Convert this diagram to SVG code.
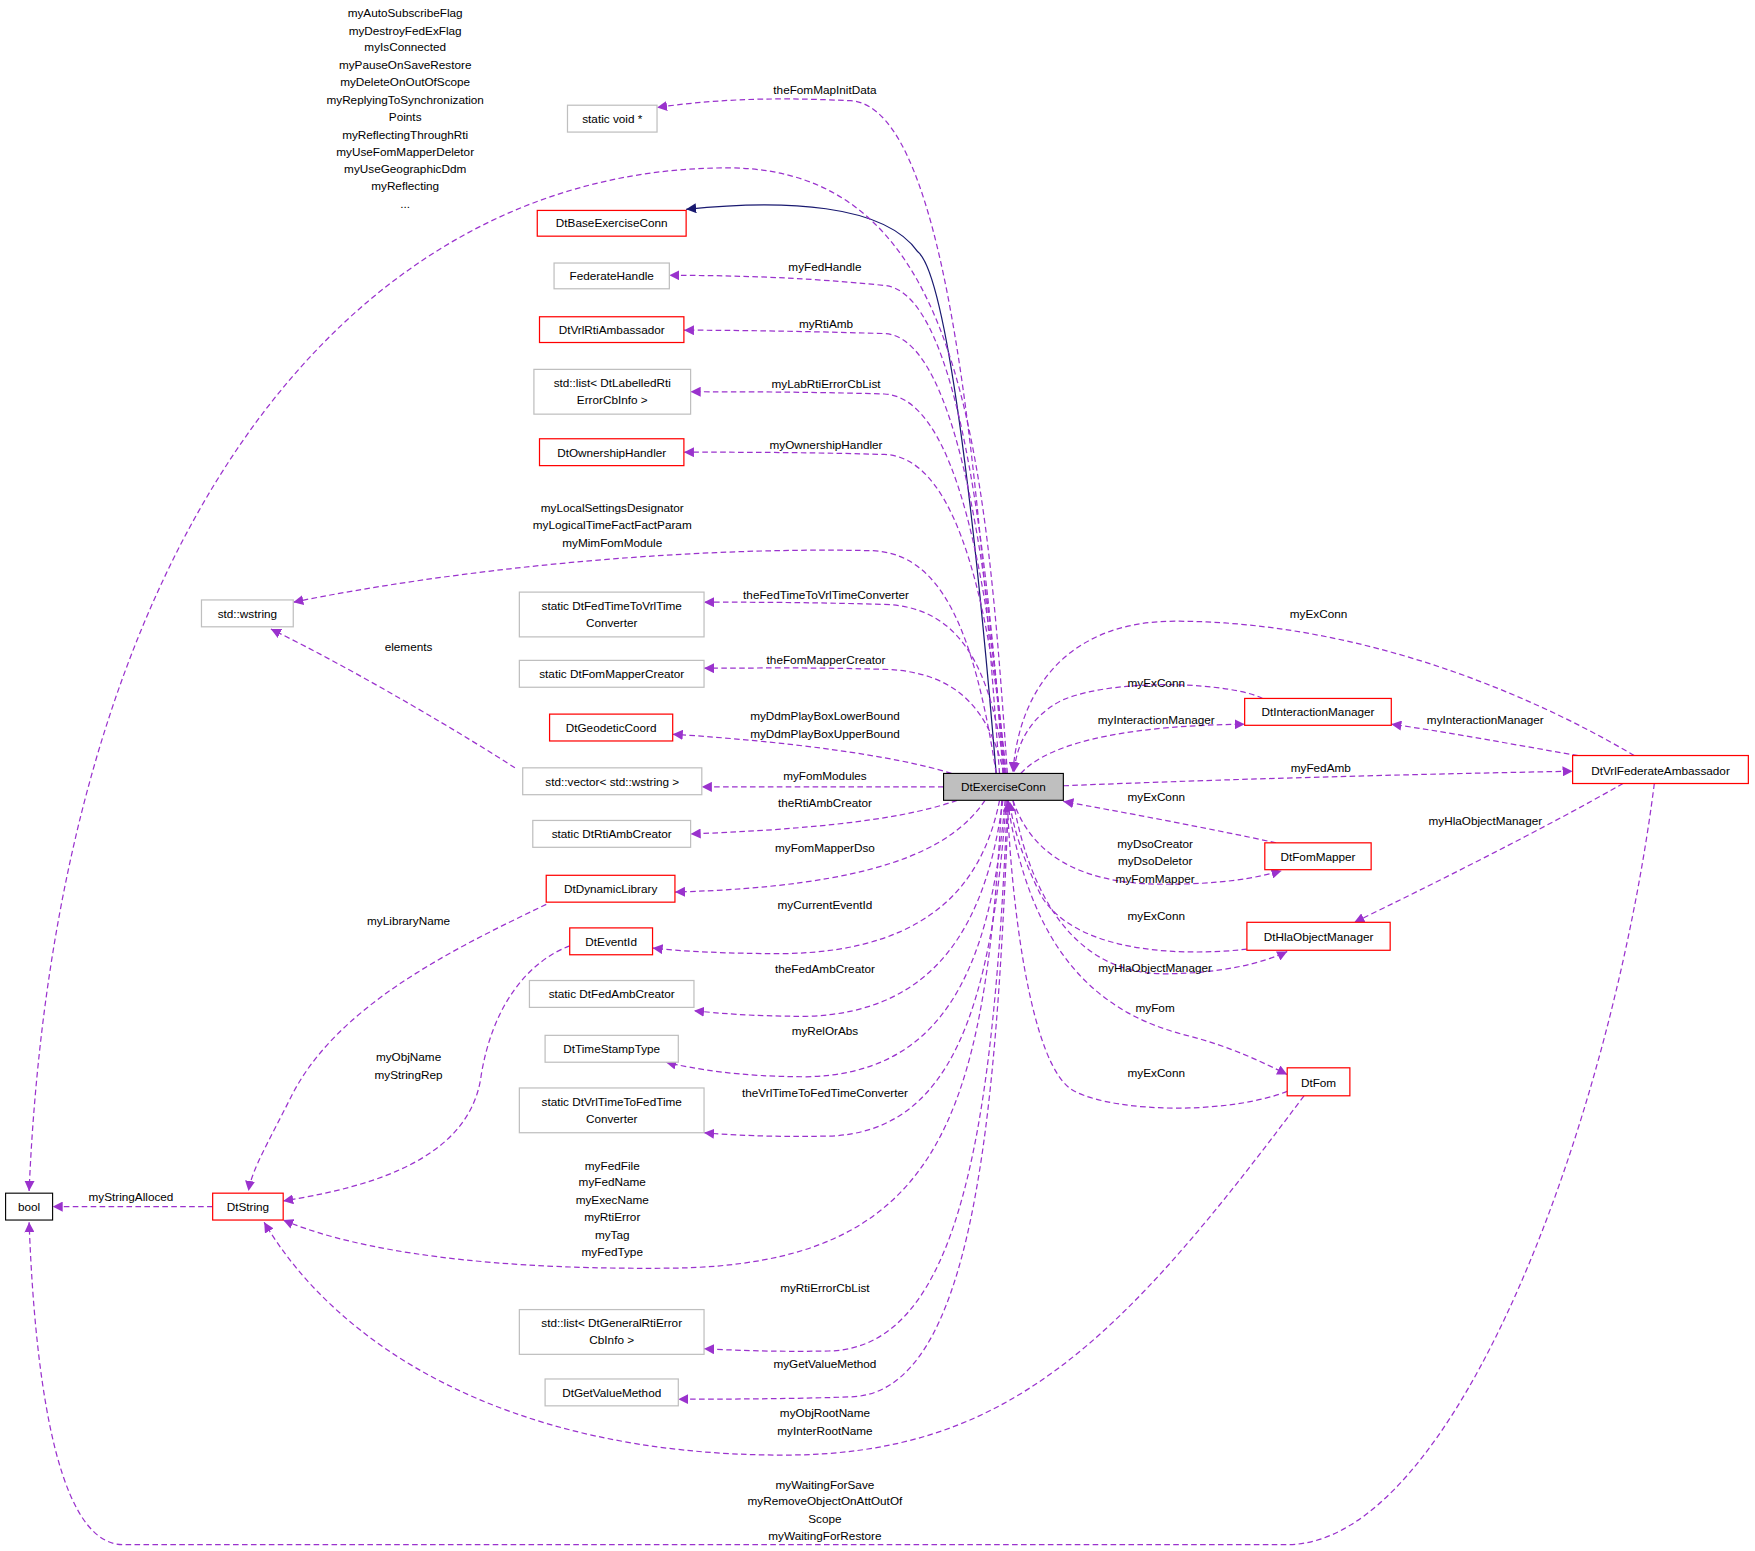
<svg xmlns="http://www.w3.org/2000/svg" width="1755" height="1551" viewBox="0 0 1755 1551">
<style>
text{font-family:"Liberation Sans",Arial,sans-serif;font-size:10.5px;text-anchor:middle;fill:#000}
.r{fill:#fff;stroke:#ff0000;stroke-width:1.1}
.g{fill:#fff;stroke:#bfbfbf;stroke-width:1.1}
.e path{fill:none;stroke:#9a32cd;stroke-width:1.1;stroke-dasharray:5,3;marker-end:url(#a)}
.e path.inh{stroke:#191970;stroke-dasharray:none;marker-end:url(#b)}
</style>
<defs>
<marker id="a" viewBox="0 0 10 10" refX="10" refY="5" markerWidth="9" markerHeight="9" markerUnits="userSpaceOnUse" orient="auto"><path d="M0,0 L10,5 L0,10 z" fill="#9a32cd"/></marker>
<marker id="b" viewBox="0 0 10 10" refX="10" refY="5" markerWidth="9" markerHeight="9" markerUnits="userSpaceOnUse" orient="auto"><path d="M0,0 L10,5 L0,10 z" fill="#191970"/></marker>
</defs>
<rect width="1755" height="1551" fill="#fff"/>
<g transform="scale(1.1193)">
<g id="connectors" class="e">
<path class="inh" d="M890,691 C870,450 845,245 820,225 C790,182 700,178 613,187"/>
<path d="M900,691 C880,400 860,150 650,150 C300,150 50,500 26,1064"/>
<path d="M893,691 C875,450 850,95 760,90 C680,86 630,90 587,96"/>
<path d="M896,691 C880,450 850,260 790,255 C720,248 660,246 598,246"/>
<path d="M897,691 C882,480 850,300 790,298 C720,296 660,295 611,295"/>
<path d="M898,691 C884,520 855,355 790,352 C720,350 660,350 617,350"/>
<path d="M899,691 C886,560 860,408 790,406 C720,404 660,404 611,404"/>
<path d="M890,691 C870,560 840,495 780,492 C600,488 400,510 262,538"/>
<path d="M898,691 C886,600 860,542 790,540 C720,538 670,538 629,538"/>
<path d="M897,691 C885,640 860,600 790,598 C720,596 670,597 629,597"/>
<path d="M850,691 C800,675 700,662 601,656"/>
<path d="M843,703 L627,703"/>
<path d="M460,686 C420,660 320,600 242,562"/>
<path d="M855,715 C800,735 700,742 617,745"/>
<path d="M880,715 C850,760 780,792 603,797"/>
<path d="M893,715 C880,780 840,850 700,852 C650,852 610,850 583,847"/>
<path d="M896,715 C882,820 840,905 720,908 C670,908 640,905 620,903"/>
<path d="M898,715 C885,870 840,960 720,962 C660,962 620,955 595,949"/>
<path d="M899,715 C886,900 850,1012 740,1015 C690,1016 650,1014 629,1012"/>
<path d="M895,715 C880,1000 840,1130 600,1133 C400,1135 300,1110 253,1090"/>
<path d="M900,715 C888,1000 860,1205 740,1207 C690,1208 650,1206 629,1205"/>
<path d="M901,715 C890,1000 870,1245 760,1248 C700,1250 650,1250 606,1250"/>
<path d="M488,808 C400,850 300,900 260,980 C240,1020 225,1045 222,1064"/>
<path d="M509,845 C470,860 440,900 430,960 C420,1040 320,1062 253,1073"/>
<path d="M190,1078 L47,1078"/>
<path d="M1165,979 C1000,1200 900,1300 700,1300 C450,1300 300,1200 236,1092"/>
<path d="M1478,700 C1440,1000 1300,1380 1150,1380 L110,1380 C45,1380 30,1200 26,1092"/>
<path d="M1460,675 C1350,610 1200,555 1050,555 C950,555 910,620 905,690"/>
<path d="M1128,624 C1100,610 1000,605 950,625 C920,640 908,665 906,690"/>
<path d="M912,691 C940,660 1020,648 1112,647"/>
<path d="M1410,675 C1350,665 1300,655 1243,647"/>
<path d="M950,702 C1100,696 1250,692 1405,689"/>
<path d="M1450,700 C1380,740 1280,790 1210,824"/>
<path d="M1140,753 C1080,740 1000,725 950,716"/>
<path d="M905,715 C920,760 960,790 1040,790 C1090,790 1120,785 1145,778"/>
<path d="M1114,848 C1050,855 960,850 930,800 C915,770 905,740 902,716"/>
<path d="M905,715 C920,800 960,870 1040,870 C1090,870 1130,860 1150,850"/>
<path d="M900,715 C920,850 980,905 1060,925 C1100,935 1130,950 1150,960"/>
<path d="M1150,975 C1100,995 1000,995 960,975 C920,955 903,800 900,716"/>
</g>
<g id="labels">
<text x="362" y="15">myAutoSubscribeFlag</text>
<text x="362" y="31">myDestroyFedExFlag</text>
<text x="362" y="46">myIsConnected</text>
<text x="362" y="62">myPauseOnSaveRestore</text>
<text x="362" y="77">myDeleteOnOutOfScope</text>
<text x="362" y="93">myReplyingToSynchronization</text>
<text x="362" y="108">Points</text>
<text x="362" y="124">myReflectingThroughRti</text>
<text x="362" y="139">myUseFomMapperDeletor</text>
<text x="362" y="155">myUseGeographicDdm</text>
<text x="362" y="170">myReflecting</text>
<text x="362" y="186">...</text>
<text x="737" y="84">theFomMapInitData</text>
<text x="737" y="242">myFedHandle</text>
<text x="738" y="293">myRtiAmb</text>
<text x="738" y="347">myLabRtiErrorCbList</text>
<text x="738" y="401">myOwnershipHandler</text>
<text x="547" y="457">myLocalSettingsDesignator</text>
<text x="547" y="473">myLogicalTimeFactFactParam</text>
<text x="547" y="489">myMimFomModule</text>
<text x="738" y="535">theFedTimeToVrlTimeConverter</text>
<text x="738" y="593">theFomMapperCreator</text>
<text x="737" y="643">myDdmPlayBoxLowerBound</text>
<text x="737" y="659">myDdmPlayBoxUpperBound</text>
<text x="365" y="582">elements</text>
<text x="737" y="697">myFomModules</text>
<text x="737" y="721">theRtiAmbCreator</text>
<text x="737" y="761">myFomMapperDso</text>
<text x="737" y="812">myCurrentEventId</text>
<text x="737" y="869">theFedAmbCreator</text>
<text x="737" y="925">myRelOrAbs</text>
<text x="737" y="980">theVrlTimeToFedTimeConverter</text>
<text x="547" y="1045">myFedFile</text>
<text x="547" y="1060">myFedName</text>
<text x="547" y="1076">myExecName</text>
<text x="547" y="1091">myRtiError</text>
<text x="547" y="1107">myTag</text>
<text x="547" y="1122">myFedType</text>
<text x="737" y="1154">myRtiErrorCbList</text>
<text x="737" y="1222">myGetValueMethod</text>
<text x="737" y="1266">myObjRootName</text>
<text x="737" y="1282">myInterRootName</text>
<text x="737" y="1330">myWaitingForSave</text>
<text x="737" y="1345">myRemoveObjectOnAttOutOf</text>
<text x="737" y="1361">Scope</text>
<text x="737" y="1376">myWaitingForRestore</text>
<text x="365" y="826">myLibraryName</text>
<text x="365" y="948">myObjName</text>
<text x="365" y="964">myStringRep</text>
<text x="117" y="1073">myStringAlloced</text>
<text x="1178" y="552">myExConn</text>
<text x="1033" y="614">myExConn</text>
<text x="1033" y="647">myInteractionManager</text>
<text x="1327" y="647">myInteractionManager</text>
<text x="1180" y="690">myFedAmb</text>
<text x="1327" y="737">myHlaObjectManager</text>
<text x="1033" y="716">myExConn</text>
<text x="1032" y="758">myDsoCreator</text>
<text x="1032" y="773">myDsoDeletor</text>
<text x="1032" y="789">myFomMapper</text>
<text x="1033" y="822">myExConn</text>
<text x="1032" y="868">myHlaObjectManager</text>
<text x="1032" y="904">myFom</text>
<text x="1033" y="962">myExConn</text>
</g>
<g id="DtExerciseConn"><rect x="843" y="691" width="107" height="24" fill="#bfbfbf" stroke="#000"/><text x="896.5" y="707">DtExerciseConn</text></g>
<g id="staticvoid"><rect class="g" x="507" y="94" width="80" height="24"/><text x="547" y="110">static void *</text></g>
<g id="DtBaseExerciseConn"><rect class="r" x="480" y="188" width="133" height="23"/><text x="546.5" y="203">DtBaseExerciseConn</text></g>
<g id="FederateHandle"><rect class="g" x="495" y="235" width="103" height="23"/><text x="546.5" y="250">FederateHandle</text></g>
<g id="DtVrlRtiAmbassador"><rect class="r" x="482" y="283" width="129" height="23"/><text x="546.5" y="298">DtVrlRtiAmbassador</text></g>
<g id="listLabelled"><rect class="g" x="477" y="330" width="140" height="40"/><text x="547" y="346">std::list&lt; DtLabelledRti</text><text x="547" y="361">ErrorCbInfo &gt;</text></g>
<g id="DtOwnershipHandler"><rect class="r" x="482" y="392" width="129" height="24"/><text x="546.5" y="408">DtOwnershipHandler</text></g>
<g id="wstring"><rect class="g" x="180" y="536" width="82" height="24"/><text x="221" y="552">std::wstring</text></g>
<g id="FedTimeConv"><rect class="g" x="464" y="529" width="165" height="40"/><text x="546.5" y="545">static DtFedTimeToVrlTime</text><text x="546.5" y="560">Converter</text></g>
<g id="FomMapperCreator"><rect class="g" x="464" y="590" width="165" height="24"/><text x="546.5" y="606">static DtFomMapperCreator</text></g>
<g id="DtGeodeticCoord"><rect class="r" x="491" y="638" width="110" height="24"/><text x="546" y="654">DtGeodeticCoord</text></g>
<g id="vectorWstring"><rect class="g" x="467" y="686" width="160" height="24"/><text x="547" y="702">std::vector&lt; std::wstring &gt;</text></g>
<g id="RtiAmbCreator"><rect class="g" x="476" y="733" width="141" height="24"/><text x="546.5" y="749">static DtRtiAmbCreator</text></g>
<g id="DtDynamicLibrary"><rect class="r" x="488" y="782" width="115" height="24"/><text x="545.5" y="798">DtDynamicLibrary</text></g>
<g id="DtEventId"><rect class="r" x="509" y="829" width="74" height="24"/><text x="546" y="845">DtEventId</text></g>
<g id="FedAmbCreator"><rect class="g" x="473" y="876" width="147" height="24"/><text x="546.5" y="892">static DtFedAmbCreator</text></g>
<g id="DtTimeStampType"><rect class="g" x="487" y="925" width="119" height="24"/><text x="546.5" y="941">DtTimeStampType</text></g>
<g id="VrlTimeConv"><rect class="g" x="464" y="972" width="165" height="40"/><text x="546.5" y="988">static DtVrlTimeToFedTime</text><text x="546.5" y="1003">Converter</text></g>
<g id="listGeneral"><rect class="g" x="464" y="1170" width="165" height="40"/><text x="546.5" y="1186">std::list&lt; DtGeneralRtiError</text><text x="546.5" y="1201">CbInfo &gt;</text></g>
<g id="DtGetValueMethod"><rect class="g" x="487" y="1232" width="119" height="24"/><text x="546.5" y="1248">DtGetValueMethod</text></g>
<g id="bool"><rect x="5" y="1066" width="42" height="24" fill="#fff" stroke="#000"/><text x="26" y="1082">bool</text></g>
<g id="DtString"><rect class="r" x="190" y="1066" width="63" height="24"/><text x="221.5" y="1082">DtString</text></g>
<g id="DtInteractionManager"><rect class="r" x="1112" y="624" width="131" height="24"/><text x="1177.5" y="640">DtInteractionManager</text></g>
<g id="DtVrlFederateAmbassador"><rect class="r" x="1405" y="675" width="157" height="25"/><text x="1483.5" y="692">DtVrlFederateAmbassador</text></g>
<g id="DtFomMapper"><rect class="r" x="1130" y="753" width="95" height="24"/><text x="1177.5" y="769">DtFomMapper</text></g>
<g id="DtHlaObjectManager"><rect class="r" x="1114" y="824" width="128" height="25"/><text x="1178" y="841">DtHlaObjectManager</text></g>
<g id="DtFom"><rect class="r" x="1150" y="954" width="56" height="25"/><text x="1178" y="971">DtFom</text></g>
</g>
</svg>
